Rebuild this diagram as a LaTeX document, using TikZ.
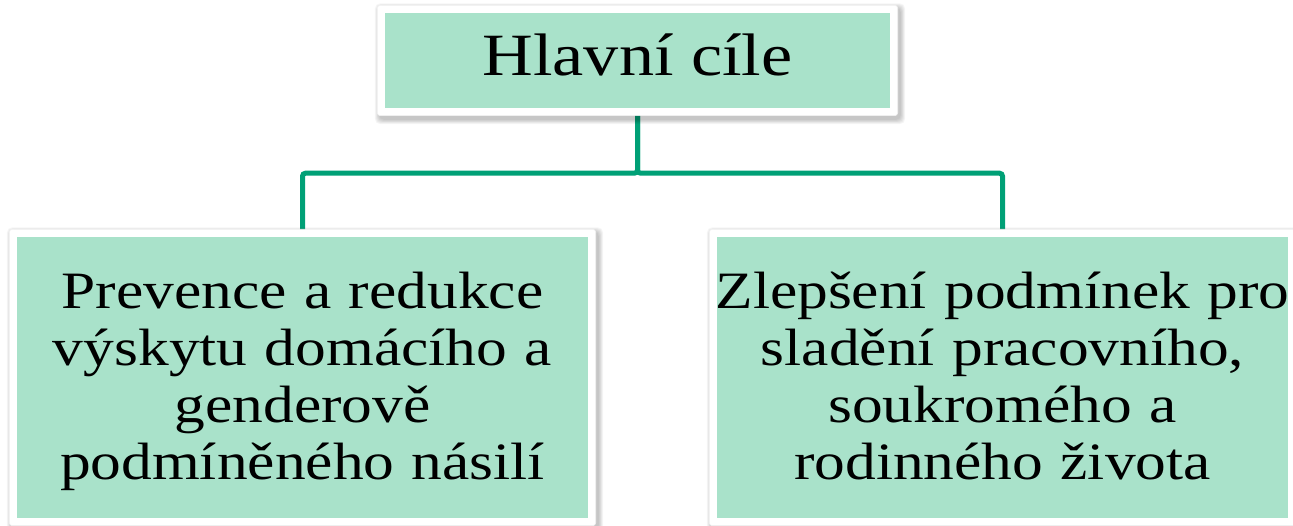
\documentclass[tikz,border=0pt]{standalone}
\usepackage{fontspec}
\newfontfamily\georgia[FakeStretch=1.17]{Liberation Serif}
\usetikzlibrary{backgrounds}
\definecolor{boxgreen}{RGB}{169,226,202}
\definecolor{linegreen}{RGB}{0,160,118}
\tikzset{
  box/.style={fill=boxgreen, inner sep=0pt, align=center,
    font=\georgia\fontsize{52.5}{57.3}\selectfont},
  conn/.style={draw=linegreen, line width=5pt, rounded corners=3pt},
  framebox/.style={fill=white, draw=black!5, line width=0.6pt, rounded corners=3pt},
  shadowbox/.style={fill=black, opacity=0.035, rounded corners=5pt},
}
\begin{document}
\begin{tikzpicture}[x=1pt,y=1pt]
\useasboundingbox (0,0) rectangle (1293,526);
\node[box, minimum width=505pt, minimum height=95pt,
  font=\georgia\fontsize{60}{72}\selectfont] (top) at (637.5,465.5)
  {\rule{0pt}{40pt}Hlavní cíle\rule[-11pt]{0pt}{11pt}};
\node[box, text width=571pt, minimum height=281pt] (left) at (302.5,148.5)
  {\rule{0pt}{45pt}\mbox{Prevence a redukce}\\\mbox{výskytu domácího a}\\\mbox{genderově}\\\mbox{podmíněného násilí}\rule[-12pt]{0pt}{12pt}};
\node[box, text width=571pt, minimum height=281pt] (right) at (1002.5,148.5)
  {\rule{0pt}{45pt}\makebox[571pt]{Zlepšení podmínek pro}\\\mbox{sladění pracovního,}\\\mbox{soukromého a}\\\mbox{rodinného života}\rule[-12pt]{0pt}{12pt}};
\begin{scope}[on background layer]
  \draw[conn] (top.south) -- ++(0,-65) -| (left.north);
  \draw[conn] (top.south) -- ++(0,-65) -| (right.north);
  \foreach \n in {top,left,right}{
    \foreach \i in {1,...,7}{
      \fill[shadowbox] ([shift={(-7.5+2.5-\i*0.7,7.5-3+\i*0.7)}]\n.north west)
        rectangle ([shift={(7.5+2.5+\i*0.7,-7.5-3.5-\i*0.7)}]\n.south east);
    }
    \filldraw[framebox] ([shift={(-7.5,7.5)}]\n.north west)
      rectangle ([shift={(7.5,-7.5)}]\n.south east);
  }
\end{scope}
\end{tikzpicture}
\end{document}
